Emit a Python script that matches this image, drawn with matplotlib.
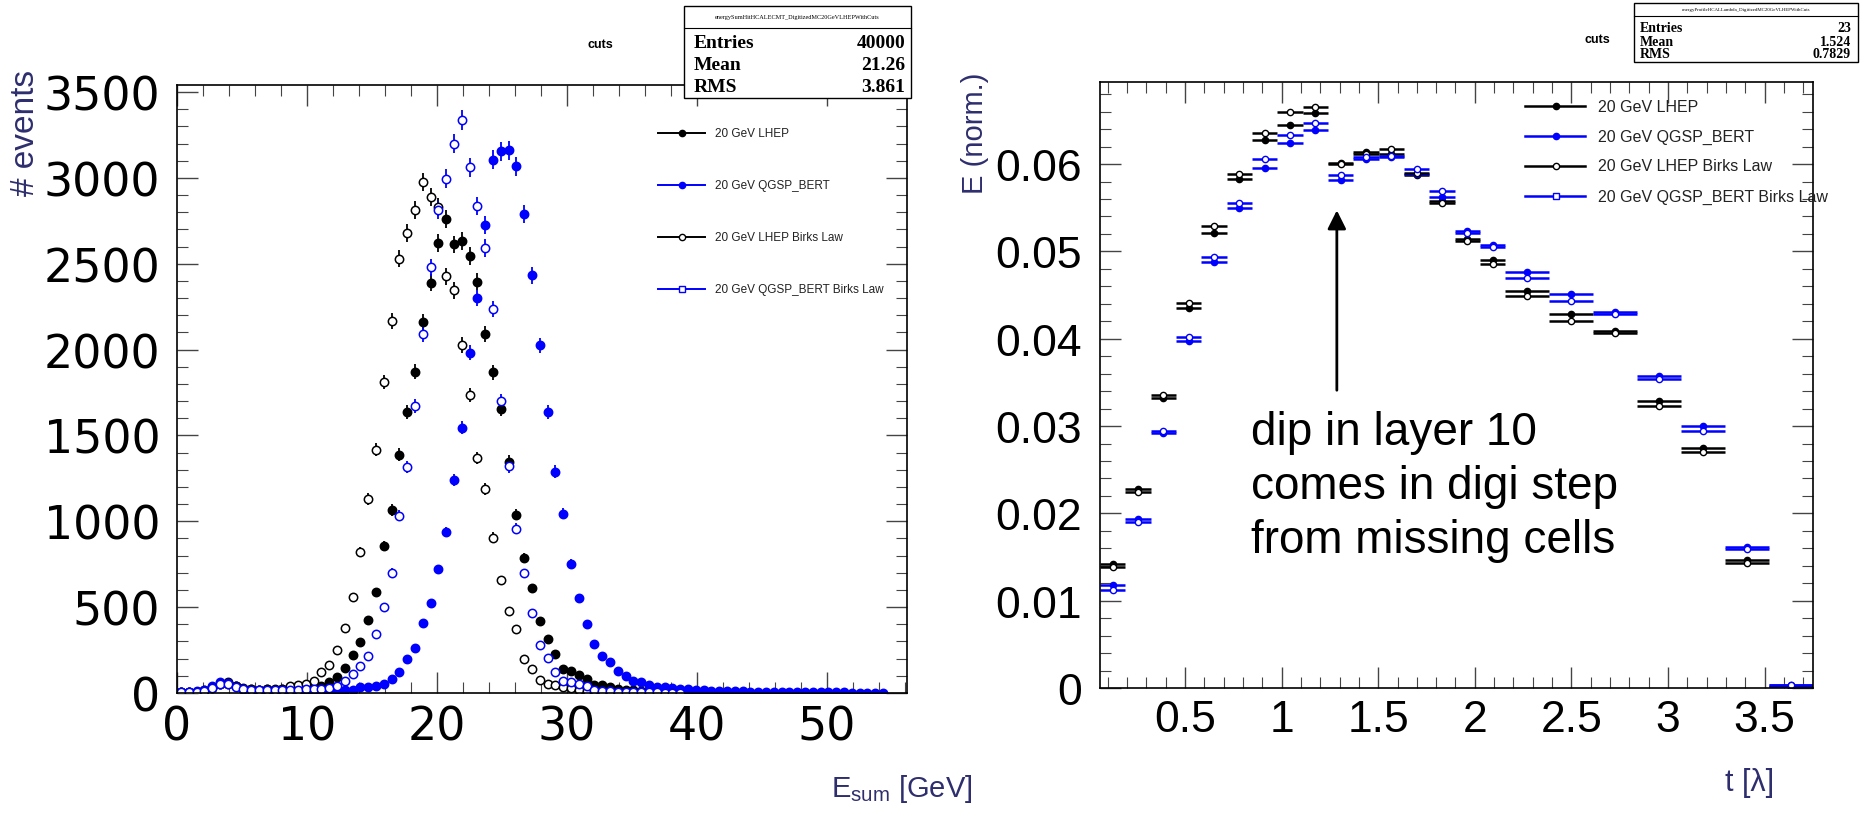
import numpy as np
import matplotlib
matplotlib.use("Agg")
import matplotlib.pyplot as plt
from matplotlib.lines import Line2D
from matplotlib.patches import Rectangle
from matplotlib.ticker import MultipleLocator, FuncFormatter

plt.rcParams["font.family"] = ["Liberation Sans", "DejaVu Sans"]
plt.rcParams["mathtext.fontset"] = "custom"
plt.rcParams["mathtext.rm"] = "Liberation Sans"

# ---- left panel: energy sum, bins of 0.6 GeV starting at 0 ----
bin_width = 0.6
lhep = [3, 5, 8, 15, 35, 55, 62, 40, 28, 22,
        20, 22, 20, 22, 25, 25, 28, 32, 40, 62,
        95, 146, 223, 295, 423, 588, 856, 1066, 1389, 1639,
        1872, 2160, 2389, 2620, 2762, 2613, 2632, 2545, 2395, 2092,
        1869, 1655, 1348, 1037, 785, 610, 422, 317, 230, 138,
        130, 102, 80, 48, 45, 36, 22, 17, 15, 12,
        10, 8, 8, 6, 5, 4, 3, 2, 3, 0,
        2, 0, 1, 1, 0, 2, 0, 0, 0, 1,
        0, 0, 0, 0, 1, 0, 0, 0, 0, 0,
        0, 0, 0]
lhep_birks = [3, 5, 8, 14, 30, 50, 55, 38, 26, 22,
              20, 22, 22, 25, 39, 49, 54, 68, 122, 165,
              250, 377, 558, 822, 1130, 1416, 1811, 2164, 2529, 2681,
              2815, 2976, 2888, 2830, 2428, 2345, 2028, 1737, 1368, 1189,
              905, 657, 480, 371, 200, 142, 77, 55, 45, 35,
              30, 20, 10, 8, 6, 5, 4, 3, 2, 2,
              1, 1, 0, 1, 0, 0, 0, 0, 0, 0,
              0, 0, 0, 0, 0, 0, 0, 0, 0, 0,
              0, 0, 0, 0, 0, 0, 0, 0, 0, 0,
              0, 0, 0]
qgsp = [4, 6, 10, 18, 40, 62, 58, 40, 25, 18,
        15, 15, 14, 12, 12, 12, 12, 12, 12, 13,
        14, 15, 16, 35, 36, 40, 55, 82, 121, 196,
        263, 410, 526, 720, 938, 1240, 1546, 1981, 2300, 2727,
        3106, 3155, 3160, 3069, 2791, 2432, 2024, 1639, 1290, 1043,
        752, 554, 402, 286, 218, 179, 126, 101, 72, 63,
        47, 37, 33, 29, 25, 21, 18, 15, 13, 12,
        10, 10, 9, 8, 8, 7, 6, 6, 5, 5,
        4, 4, 4, 3, 3, 3, 2, 2, 2, 1,
        1, 0, 0]
qgsp_birks = [3, 5, 8, 14, 32, 52, 50, 35, 25, 20,
              18, 18, 18, 18, 20, 20, 22, 22, 25, 30,
              43, 68, 113, 159, 213, 342, 499, 700, 1033, 1315,
              1674, 2092, 2479, 2811, 2995, 3199, 3335, 3063, 2836, 2593,
              2238, 1703, 1320, 958, 697, 464, 281, 203, 120, 72,
              62, 52, 39, 19, 12, 10, 8, 6, 5, 4,
              3, 3, 2, 2, 1, 0, 0, 0, 0, 0,
              0, 0, 0, 0, 0, 0, 0, 0, 0, 0,
              0, 0, 0, 0, 0, 0, 0, 0, 0, 0,
              0, 0, 0]

# ---- right panel: longitudinal profile, 23 layers ----
first_edge = 0.06
layer_width = [0.1311] * 16 + [0.2276] * 7
prof_lhep = [0.01419, 0.02277, 0.03318, 0.04350, 0.05210, 0.05830, 0.06280, 0.06450,
             0.06580, 0.06010, 0.06140, 0.06120, 0.05880, 0.05580, 0.05140, 0.04900,
             0.04550, 0.04280, 0.04090, 0.03290, 0.02750, 0.01470, 0.00010]
prof_lhep_birks = [0.01380, 0.02240, 0.03352, 0.04410, 0.05290, 0.05890, 0.06360, 0.06600,
                   0.06650, 0.06000, 0.06110, 0.06170, 0.05900, 0.05550, 0.05120, 0.04850,
                   0.04490, 0.04200, 0.04070, 0.03230, 0.02700, 0.01430, 0.00010]
prof_qgsp = [0.01178, 0.01934, 0.02925, 0.03970, 0.04880, 0.05500, 0.05950, 0.06240,
             0.06390, 0.05820, 0.06060, 0.06080, 0.05890, 0.05620, 0.05230, 0.05070,
             0.04760, 0.04510, 0.04310, 0.03570, 0.03000, 0.01610, 0.00030]
prof_qgsp_birks = [0.01125, 0.01896, 0.02944, 0.04020, 0.04940, 0.05560, 0.06060, 0.06330,
                   0.06470, 0.05880, 0.06080, 0.06090, 0.05940, 0.05690, 0.05210, 0.05050,
                   0.04700, 0.04430, 0.04280, 0.03540, 0.02940, 0.01590, 0.00030]

labels = ["20 GeV LHEP", "20 GeV QGSP_BERT", "20 GeV LHEP Birks Law",
          "20 GeV QGSP_BERT Birks Law"]
BLUE = "#0000ff"
TITLE_COL = "#2e2e6e"
W, H = 1860, 820


def fx(x):
    return x / W


def fy(y):
    return 1 - y / H


fig = plt.figure(figsize=(18.6, 8.2), dpi=100)
ax1 = fig.add_axes([fx(177), fy(694), 730 / W, 608 / H])
ax2 = fig.add_axes([fx(1100), fy(689), 713 / W, 606 / H])

# left histogram
centers = bin_width * (np.arange(len(lhep)) + 0.5)
series_left = [(lhep, "black", "black"), (qgsp, BLUE, BLUE),
               (lhep_birks, "black", "white"), (qgsp_birks, BLUE, "white")]
for vals, col, face in series_left:
    v = np.array(vals, dtype=float)
    err = np.sqrt(v)
    v[v <= 0] = np.nan
    ax1.errorbar(centers, v, yerr=err, fmt="o", color=col, mfc=face, mec=col,
                 ms=6, mew=1.1, elinewidth=1.3, capsize=0, clip_on=True)

ax1.set_xlim(0, 56.15)
ax1.set_ylim(0, 3541)
ax1.xaxis.set_major_locator(MultipleLocator(10))
ax1.xaxis.set_minor_locator(MultipleLocator(2))
ax1.yaxis.set_major_locator(MultipleLocator(500))
ax1.yaxis.set_minor_locator(MultipleLocator(100))
ax1.tick_params(which="both", direction="in", top=True, right=True, color="#444444")
ax1.tick_params(which="major", length=15, width=1, labelsize=33,
                labelfontfamily="DejaVu Sans")
ax1.tick_params(which="minor", length=8, width=0.8)
ax1.tick_params(axis="y", pad=12)
ax1.tick_params(axis="x", pad=8)

# right profile
edges = first_edge + np.concatenate([[0], np.cumsum(layer_width)])
lcent = 0.5 * (edges[:-1] + edges[1:])
half = 0.5 * np.diff(edges)
series_right = [(prof_lhep, "black", "black"), (prof_qgsp, BLUE, BLUE),
                (prof_lhep_birks, "black", "white"), (prof_qgsp_birks, BLUE, "white")]
for vals, col, face in series_right:
    ax2.errorbar(lcent, vals, xerr=half, fmt="o", color=col, mfc=face, mec=col,
                 ms=4.5, mew=1.0, elinewidth=1.8, capsize=0)

ax2.set_xlim(edges[0], edges[-1])
ax2.set_ylim(0, 0.0694)
ax2.xaxis.set_major_locator(MultipleLocator(0.5))
ax2.xaxis.set_minor_locator(MultipleLocator(0.1))
ax2.yaxis.set_major_locator(MultipleLocator(0.01))
ax2.yaxis.set_minor_locator(MultipleLocator(0.002))
ax2.xaxis.set_major_formatter(FuncFormatter(lambda v, p: "%g" % round(v, 3)))
ax2.yaxis.set_major_formatter(FuncFormatter(lambda v, p: "%g" % round(v, 4)))
ax2.tick_params(which="both", direction="in", top=True, right=True, color="#444444")
ax2.tick_params(which="major", length=15, width=1, labelsize=32)
ax2.tick_params(which="minor", length=8, width=0.8)
ax2.tick_params(axis="y", pad=13)
ax2.tick_params(axis="x", pad=8)

for ax in (ax1, ax2):
    for sp in ax.spines.values():
        sp.set_linewidth(1.2)

# arrow + note
ax2.annotate("", xy=(1.286, 0.0547), xytext=(1.286, 0.0341),
             arrowprops=dict(arrowstyle="-|>", color="black", lw=2,
                             mutation_scale=28, shrinkA=0, shrinkB=0))
note = ["dip in layer 10", "comes in digi step", "from missing cells"]
for i, line in enumerate(note):
    fig.text(fx(1251), fy(445 + 54 * i), line, fontsize=33, va="baseline", ha="left")

# axis titles
fig.text(fx(26), fy(133), "# events", rotation=90, fontsize=24, color=TITLE_COL,
         ha="center", va="center")
fig.text(fx(902), fy(789), r"E$_{\rm sum}$ [GeV]", fontsize=21, color=TITLE_COL,
         ha="center", va="center")
fig.text(fx(975), fy(133), "E (norm.)", rotation=90, fontsize=21, color=TITLE_COL,
         ha="center", va="center")
fig.text(fx(1750), fy(783), "t [λ]", fontsize=22, color=TITLE_COL,
         ha="center", va="center")


# legends drawn by hand in ROOT style
def legend_row(y, x0, x1, xm, xt, col, face, marker, text, fs, ms, lw):
    fig.add_artist(Line2D([fx(x0), fx(x1)], [fy(y), fy(y)], color=col, lw=lw,
                          transform=fig.transFigure))
    fig.add_artist(Line2D([fx(xm)], [fy(y)], marker=marker, color=col, mfc=face,
                          mec=col, ms=ms, transform=fig.transFigure))
    fig.text(fx(xt), fy(y), text, fontsize=fs, va="center", ha="left", color="#222222")


styles = [("black", "black", "o"), (BLUE, BLUE, "o"),
          ("black", "white", "o"), (BLUE, "white", "s")]
for i, (col, face, mk) in enumerate(styles):
    legend_row(134 + 52 * i, 658, 705, 682, 715, col, face, mk, labels[i], 8.5, 4.5, 1.4)
    legend_row(107 + 30 * i, 1525, 1585, 1556, 1598, col, face, mk, labels[i], 11.5, 4.5, 1.8)

# "cuts" pad titles
fig.text(fx(600), fy(45), "cuts", fontsize=9, fontweight="bold", ha="center", va="center")
fig.text(fx(1597), fy(40), "cuts", fontsize=9, fontweight="bold", ha="center", va="center")


# stats boxes
def stats_box(x0, y0, x1, y1, ysep, title, tfs, rows, rys, fs, xl, xr):
    fig.add_artist(Rectangle((fx(x0), fy(y1)), (x1 - x0) / W, (y1 - y0) / H,
                             transform=fig.transFigure, fc="white", ec="black",
                             lw=1, zorder=10))
    fig.add_artist(Line2D([fx(x0), fx(x1)], [fy(ysep), fy(ysep)], color="black",
                          lw=0.8, transform=fig.transFigure, zorder=11))
    fig.text(fx((x0 + x1) / 2), fy((y0 + ysep) / 2), title, fontsize=tfs,
             family="Liberation Serif", ha="center", va="center", zorder=12)
    for (name, val), ry in zip(rows, rys):
        fig.text(fx(xl), fy(ry), name, fontsize=fs, family="Liberation Serif",
                 fontweight="bold", ha="left", va="center", zorder=12)
        fig.text(fx(xr), fy(ry), val, fontsize=fs, family="Liberation Serif",
                 fontweight="bold", ha="right", va="center", zorder=12)


stats_box(684, 7, 911, 99, 29, "energySumHitHCALECMT_DigitizedMC20GeVLHEPWithCuts", 4.5,
          [("Entries", "40000"), ("Mean", "21.26"), ("RMS", "3.861")],
          [43, 66, 88], 14, 694, 905)
stats_box(1634, 4, 1858, 63, 17, "energyProfileHCALLambda_DigitizedMC20GeVLHEPWithCuts", 3.5,
          [("Entries", "23"), ("Mean", "1.524"), ("RMS", "0.7829")],
          [28, 42, 55], 10, 1640, 1851)

fig.savefig("out.png", dpi=100)
